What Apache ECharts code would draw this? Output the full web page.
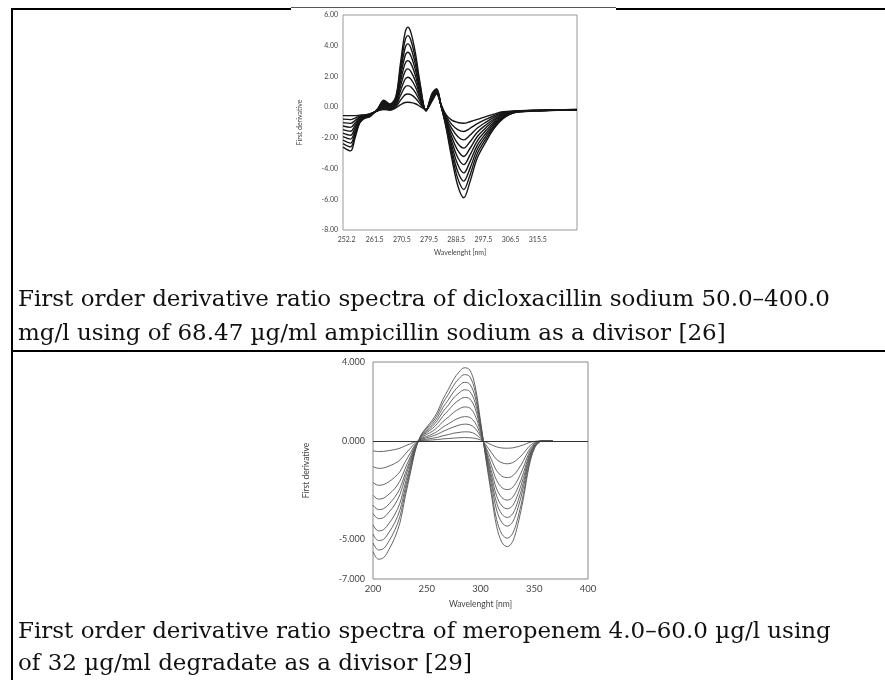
<!DOCTYPE html>
<html><head><meta charset="utf-8">
<script src="https://cdn.jsdelivr.net/npm/echarts@6/dist/echarts.min.js"></script>
<style>html,body{margin:0;padding:0;background:#fff}#c{width:885px;height:680px}</style>
</head><body><div id="c"></div><script>
// ---------- Top chart: dicloxacillin sodium ----------
const topWavelength = [251, 253.5, 255, 256.5, 258, 260, 262.5, 264.5, 266.5, 268.5, 270, 271.5, 272.5, 273.5, 275, 276.5, 278.5, 280.5, 282, 283.5, 285, 287, 289, 291, 293, 295.5, 298.5, 301, 304, 308, 315, 322, 328.5];
const topXTicks = [252.2, 261.5, 270.5, 279.5, 288.5, 297.5, 306.5, 315.5];
const topYTicks = [6, 4, 2, 0, -2, -4, -6, -8];
const topC1 = [-0.55, -0.55, -0.55, -0.52, -0.5, -0.42, -0.25, -0.15, -0.2, -0.05, 0.15, 0.3, 0.32, 0.3, 0.22, 0.05, -0.15, 0.4, 0.85, 0.15, -0.45, -0.85, -1.0, -1.05, -0.95, -0.8, -0.6, -0.45, -0.3, -0.25, -0.2, -0.18, -0.15];
const topC2 = [-0.78, -0.81, -0.71, -0.58, -0.53, -0.44, -0.23, -0.08, -0.16, 0.03, 0.44, 0.8, 0.86, 0.81, 0.58, 0.22, -0.16, 0.46, 0.89, 0.14, -0.53, -1.12, -1.46, -1.59, -1.39, -1.08, -0.78, -0.56, -0.35, -0.26, -0.21, -0.18, -0.15];
const topC3 = [-1.01, -1.06, -0.87, -0.64, -0.56, -0.46, -0.22, -0.02, -0.11, 0.12, 0.74, 1.3, 1.4, 1.31, 0.95, 0.39, -0.17, 0.51, 0.93, 0.13, -0.62, -1.39, -1.91, -2.13, -1.83, -1.36, -0.96, -0.66, -0.4, -0.27, -0.21, -0.18, -0.16];
const topC4 = [-1.23, -1.32, -1.03, -0.7, -0.58, -0.48, -0.2, 0.05, -0.07, 0.2, 1.03, 1.8, 1.95, 1.82, 1.31, 0.57, -0.18, 0.57, 0.97, 0.12, -0.7, -1.67, -2.37, -2.67, -2.27, -1.63, -1.13, -0.77, -0.45, -0.28, -0.22, -0.19, -0.16];
const topC5 = [-1.46, -1.57, -1.19, -0.76, -0.61, -0.5, -0.18, 0.12, -0.02, 0.28, 1.33, 2.3, 2.49, 2.32, 1.68, 0.74, -0.19, 0.62, 1.01, 0.11, -0.78, -1.94, -2.82, -3.21, -2.71, -1.91, -1.31, -0.87, -0.5, -0.29, -0.22, -0.19, -0.16];
const topC6 = [-1.69, -1.83, -1.36, -0.81, -0.64, -0.52, -0.17, 0.18, 0.02, 0.37, 1.62, 2.8, 3.03, 2.83, 2.04, 0.91, -0.21, 0.68, 1.04, 0.09, -0.87, -2.21, -3.28, -3.74, -3.14, -2.19, -1.49, -0.98, -0.55, -0.31, -0.23, -0.19, -0.17];
const topC7 = [-1.92, -2.08, -1.52, -0.87, -0.67, -0.54, -0.15, 0.25, 0.07, 0.45, 1.92, 3.3, 3.57, 3.33, 2.41, 1.08, -0.22, 0.73, 1.08, 0.08, -0.95, -2.48, -3.73, -4.28, -3.58, -2.47, -1.67, -1.08, -0.6, -0.32, -0.23, -0.19, -0.17];
const topC8 = [-2.15, -2.34, -1.68, -0.93, -0.69, -0.56, -0.13, 0.32, 0.11, 0.53, 2.21, 3.8, 4.12, 3.84, 2.77, 1.26, -0.23, 0.79, 1.12, 0.07, -1.03, -2.76, -4.19, -4.82, -4.02, -2.74, -1.84, -1.19, -0.65, -0.33, -0.24, -0.2, -0.17];
const topC9 = [-2.37, -2.59, -1.84, -0.99, -0.72, -0.58, -0.12, 0.38, 0.16, 0.62, 2.51, 4.3, 4.66, 4.34, 3.14, 1.43, -0.24, 0.84, 1.16, 0.06, -1.12, -3.03, -4.64, -5.36, -4.46, -3.02, -2.02, -1.29, -0.7, -0.34, -0.24, -0.2, -0.18];
const topC10 = [-2.6, -2.85, -2.0, -1.05, -0.75, -0.6, -0.1, 0.45, 0.2, 0.7, 2.8, 4.8, 5.2, 4.85, 3.5, 1.6, -0.25, 0.9, 1.2, 0.05, -1.2, -3.3, -5.1, -5.9, -4.9, -3.3, -2.2, -1.4, -0.75, -0.35, -0.25, -0.2, -0.18];

// ---------- Bottom chart: meropenem ----------
const botWavelength = [200, 205, 210, 215, 220, 225, 230, 235, 240, 245, 250, 255, 260, 265, 270, 275, 280, 285, 290, 295, 300, 305, 310, 315, 320, 325, 330, 335, 340, 345, 350, 355, 360, 367];
const botYTicks = [4, 0, -5, -7];
const botC1 = [-0.50, -0.54, -0.53, -0.49, -0.44, -0.37, -0.25, -0.14, -0.03, 0.02, 0.03, 0.05, 0.07, 0.10, 0.12, 0.14, 0.16, 0.17, 0.16, 0.13, 0.05, -0.06, -0.19, -0.30, -0.36, -0.37, -0.35, -0.29, -0.20, -0.09, -0.03, 0, 0, 0];
const botC2 = [-1.30, -1.39, -1.37, -1.27, -1.15, -0.97, -0.66, -0.36, -0.08, 0.04, 0.09, 0.13, 0.18, 0.26, 0.32, 0.39, 0.43, 0.46, 0.45, 0.35, 0.12, -0.20, -0.58, -0.94, -1.11, -1.16, -1.10, -0.90, -0.63, -0.29, -0.09, -0.01, 0, 0];
const botC3 = [-2.10, -2.25, -2.21, -2.06, -1.85, -1.56, -1.06, -0.59, -0.14, 0.08, 0.16, 0.24, 0.34, 0.48, 0.60, 0.71, 0.80, 0.85, 0.82, 0.64, 0.23, -0.32, -0.93, -1.51, -1.79, -1.86, -1.77, -1.45, -1.00, -0.47, -0.14, -0.02, 0, 0];
const botC4 = [-2.75, -2.95, -2.90, -2.69, -2.43, -2.04, -1.39, -0.77, -0.18, 0.11, 0.23, 0.34, 0.49, 0.70, 0.86, 1.03, 1.16, 1.23, 1.19, 0.92, 0.33, -0.42, -1.24, -2.00, -2.37, -2.47, -2.35, -1.93, -1.33, -0.62, -0.19, -0.02, 0, 0];
const botC5 = [-3.26, -3.48, -3.43, -3.19, -2.87, -2.42, -1.65, -0.91, -0.21, 0.15, 0.33, 0.48, 0.69, 0.98, 1.20, 1.44, 1.62, 1.72, 1.67, 1.29, 0.46, -0.51, -1.50, -2.43, -2.88, -3.00, -2.85, -2.34, -1.62, -0.75, -0.23, -0.03, 0, 0];
const botC6 = [-3.68, -3.94, -3.88, -3.60, -3.25, -2.73, -1.86, -1.03, -0.24, 0.20, 0.42, 0.62, 0.88, 1.25, 1.54, 1.85, 2.07, 2.20, 2.13, 1.65, 0.59, -0.58, -1.72, -2.79, -3.30, -3.44, -3.27, -2.68, -1.86, -0.86, -0.26, -0.03, 0, 0];
const botC7 = [-4.26, -4.56, -4.49, -4.17, -3.76, -3.16, -2.15, -1.19, -0.27, 0.23, 0.49, 0.73, 1.04, 1.48, 1.81, 2.18, 2.43, 2.59, 2.51, 1.94, 0.70, -0.66, -1.94, -3.14, -3.72, -3.88, -3.69, -3.03, -2.10, -0.97, -0.29, -0.04, 0, 0];
const botC8 = [-4.72, -5.05, -4.98, -4.62, -4.17, -3.51, -2.39, -1.32, -0.30, 0.27, 0.56, 0.83, 1.19, 1.69, 2.08, 2.49, 2.79, 2.97, 2.88, 2.23, 0.80, -0.73, -2.16, -3.50, -4.15, -4.32, -4.10, -3.37, -2.33, -1.08, -0.32, -0.04, 0, 0];
const botC9 = [-5.17, -5.53, -5.45, -5.06, -4.56, -3.84, -2.61, -1.45, -0.33, 0.30, 0.64, 0.94, 1.34, 1.92, 2.35, 2.82, 3.16, 3.36, 3.26, 2.52, 0.91, -0.84, -2.47, -3.99, -4.73, -4.93, -4.68, -3.85, -2.66, -1.23, -0.37, -0.05, 0, 0];
const botC10 = [-5.61, -6.00, -5.91, -5.49, -4.94, -4.16, -2.83, -1.57, -0.36, 0.33, 0.70, 1.04, 1.48, 2.11, 2.60, 3.12, 3.49, 3.71, 3.60, 2.78, 1.00, -0.91, -2.68, -4.34, -5.15, -5.36, -5.09, -4.18, -2.89, -1.34, -0.40, -0.05, 0, 0];

const captionTop = ['First order derivative ratio spectra of dicloxacillin sodium 50.0\u2013400.0', 'mg/l using of 68.47 \u00b5g/ml ampicillin sodium as a divisor [26]'];
const captionBottom = ['First order derivative ratio spectra of meropenem 4.0\u201360.0 \u00b5g/l using', 'of 32 \u00b5g/ml degradate as a divisor [29]'];

const topCurves = [topC1, topC2, topC3, topC4, topC5, topC6, topC7, topC8, topC9, topC10];
const botCurves = [botC1, botC2, botC3, botC4, botC5, botC6, botC7, botC8, botC9, botC10];

const chart = echarts.init(document.getElementById('c'), null, {renderer: 'canvas'});
const axisFont = 'Lato, "Open Sans", sans-serif';
const serif = '"DejaVu Serif", serif';

const series = [];
topCurves.forEach((c, i) => {
  series.push({
    type: 'line', xAxisIndex: 0, yAxisIndex: 0, smooth: 0.35, symbol: 'none',
    lineStyle: {color: '#161616', width: 1.4}, silent: true,
    data: topWavelength.map((w, j) => [w, c[j]])
  });
});
botCurves.forEach((c, i) => {
  const s = {
    type: 'line', xAxisIndex: 1, yAxisIndex: 1, smooth: 0.35, symbol: 'none',
    lineStyle: {color: '#555', width: 0.9}, silent: true,
    data: botWavelength.map((w, j) => [w, c[j]])
  };
  if (i === 0) {
    s.markLine = {symbol: 'none', silent: true, label: {show: false},
      lineStyle: {color: '#333', width: 1.2, type: 'solid'}, data: [{yAxis: 0}]};
  }
  series.push(s);
});

const lineEl = (x1, y1, x2, y2, w, col) => ({type: 'line', silent: true,
  shape: {x1, y1, x2, y2}, style: {stroke: col, lineWidth: w}});
const textEl = (x, y, t) => ({type: 'text', x, y, silent: true,
  style: {text: t, fill: '#111', font: '23px ' + serif, verticalAlign: 'middle', align: 'left'}});

chart.setOption({
  animation: false,
  backgroundColor: '#fff',
  grid: [
    {left: 343, top: 15, width: 234, height: 215, show: true, borderColor: '#999', borderWidth: 1, containLabel: false},
    {left: 373, top: 362, width: 215, height: 217, show: true, borderColor: '#888', borderWidth: 1, containLabel: false}
  ],
  xAxis: [
    {type: 'value', gridIndex: 0, min: 251, max: 328.5,
      axisLine: {show: false}, axisTick: {show: false, customValues: topXTicks}, splitLine: {show: false},
      axisLabel: {customValues: topXTicks, formatter: v => v.toFixed(1), fontSize: 7, color: '#444', fontFamily: axisFont, margin: 6},
      name: 'Wavelenght [nm]', nameLocation: 'middle', nameGap: 19,
      nameTextStyle: {fontSize: 7, color: '#444', fontFamily: axisFont}},
    {type: 'value', gridIndex: 1, min: 200, max: 400, interval: 50,
      axisLine: {show: false}, axisTick: {show: false}, splitLine: {show: false},
      axisLabel: {fontSize: 9.5, color: '#444', fontFamily: axisFont, margin: 5},
      name: 'Wavelenght [nm]', nameLocation: 'middle', nameGap: 21,
      nameTextStyle: {fontSize: 8.5, color: '#444', fontFamily: axisFont}}
  ],
  yAxis: [
    {type: 'value', gridIndex: 0, min: -8, max: 6,
      axisLine: {show: false}, axisTick: {show: false, customValues: topYTicks}, splitLine: {show: false},
      axisLabel: {customValues: topYTicks, formatter: v => v.toFixed(2), fontSize: 7, color: '#444', fontFamily: axisFont, margin: 5},
      name: 'First derivative', nameLocation: 'middle', nameGap: 40, nameRotate: 90,
      nameTextStyle: {fontSize: 7, color: '#444', fontFamily: axisFont}},
    {type: 'value', gridIndex: 1, min: -7, max: 4,
      axisLine: {show: false}, axisTick: {show: false, customValues: botYTicks}, splitLine: {show: false},
      axisLabel: {customValues: botYTicks, formatter: v => v.toFixed(3), fontSize: 9, color: '#444', fontFamily: axisFont, margin: 8},
      name: 'First derivative', nameLocation: 'middle', nameGap: 62, nameRotate: 90,
      nameTextStyle: {fontSize: 8.5, color: '#444', fontFamily: axisFont}}
  ],
  graphic: [
    lineEl(12, 8, 12, 680, 2, '#000'),
    lineEl(11, 9, 291, 9, 2, '#000'),
    lineEl(291, 7.5, 616, 7.5, 1, '#555'),
    lineEl(616, 9, 885, 9, 2, '#000'),
    lineEl(11, 351, 885, 351, 2, '#000'),
    textEl(18, 300, captionTop[0]),
    textEl(18, 334, captionTop[1]),
    textEl(18, 632, captionBottom[0]),
    textEl(18, 664, captionBottom[1])
  ],
  series
});
</script></body></html>
